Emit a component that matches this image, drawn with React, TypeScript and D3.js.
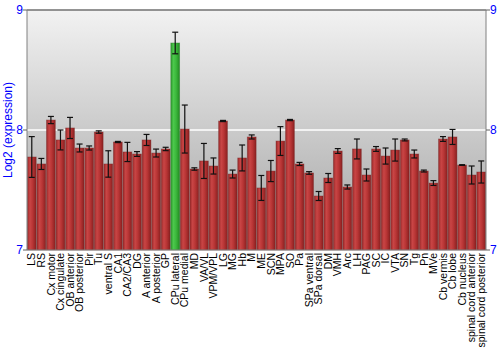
import React from "react";
import * as d3 from "d3";

const categories = ["LS","RS","Cx motor","Cx cingulate","OB anterior","OB posterior","Pir","Tu","ventral S","CA1","CA2/CA3","DG","A anterior","A posterior","GP","CPu lateral","CPu medial","MD","VA/VL","VPM/VPL","LG","MG","Hb","M","ME","SCN","MPA","SO","Pa","SPa ventral","SPa dorsal","DM","VMH","Arc","LH","PAG","SC","IC","VTA","SN","Tg","Pn","MVe","Cb vermis","Cb lobe","Cb nucleus","spinal cord anterior","spinal cord posterior"];
const values = [7.775,7.717,8.083,7.917,8.017,7.85,7.85,7.983,7.717,7.9,7.817,7.8,7.917,7.808,7.842,8.725,8.008,7.675,7.742,7.7,8.075,7.633,7.767,7.942,7.517,7.658,7.908,8.083,7.717,7.642,7.45,7.6,7.825,7.525,7.842,7.625,7.842,7.783,7.833,7.917,7.8,7.658,7.558,7.925,7.942,7.708,7.625,7.65];
const errors = [0.17,0.046,0.03,0.083,0.088,0.033,0.017,0.01,0.11,0.005,0.08,0.02,0.046,0.033,0.014,0.09,0.2,0.01,0.146,0.067,0.005,0.033,0.108,0.017,0.104,0.088,0.12,0.005,0.013,0.011,0.0375,0.0375,0.02,0.017,0.083,0.05,0.02,0.067,0.092,0.008,0.033,0.008,0.02,0.02,0.0625,0.003,0.075,0.092];
const highlighted = ["CPu lateral"];
const yTicks = [7, 8, 9];
const yTitle = "Log2 (expression)";

export default function App() {
  const left = 27, right = 486, top = 10, bottom = 250;
  const x = d3.scaleBand<string>().domain(categories).range([left, right]).paddingInner(0.08).paddingOuter(0.04);
  const y = d3.scaleLinear().domain([7, 9]).range([bottom, top]);
  const font = "'Liberation Sans', Arial, sans-serif";
  const bw = x.bandwidth();
  return (
    <svg width={500} height={350} style={{ position: "absolute", left: 0, top: 0 }} fontFamily={font}>
      <defs>
        <linearGradient id="bg" x1="0" y1="0" x2="0" y2="1">
          <stop offset="0" stopColor="#f2f2f2" />
          <stop offset="1" stopColor="#a3a3a3" />
        </linearGradient>
        <linearGradient id="red" x1="0" y1="0" x2="1" y2="0">
          <stop offset="0" stopColor="#9a2a2a" />
          <stop offset="0.3" stopColor="#c94545" />
          <stop offset="0.6" stopColor="#b83535" />
          <stop offset="1" stopColor="#8a2020" />
        </linearGradient>
        <linearGradient id="green" x1="0" y1="0" x2="1" y2="0">
          <stop offset="0" stopColor="#2e9a2e" />
          <stop offset="0.3" stopColor="#4cc84c" />
          <stop offset="0.6" stopColor="#3cb83c" />
          <stop offset="1" stopColor="#228a22" />
        </linearGradient>
      </defs>
      <rect x={left} y={top} width={right - left} height={bottom - top} fill="url(#bg)" />
      {yTicks.filter(t => t !== 7 && t !== 9).map(t => (
        <line key={t} x1={left} x2={right} y1={y(t)} y2={y(t)} stroke="#ffffff" strokeWidth={1.5} />
      ))}
      {categories.map((c, i) => {
        const bx = x(c)!;
        const hi = highlighted.includes(c);
        return (
          <rect key={c} x={bx} y={y(values[i])} width={bw} height={bottom - y(values[i])}
            fill={hi ? "url(#green)" : "url(#red)"} stroke={hi ? "#2a7a2a" : "#7a2a2a"} strokeOpacity={0.5} strokeWidth={0.8} />
        );
      })}
      {categories.map((c, i) => {
        const cx = x(c)! + bw / 2;
        const y1 = y(values[i] + errors[i]);
        const y2 = y(values[i] - errors[i]);
        return (
          <g key={"e" + c} stroke="#111" strokeWidth={1.2}>
            <line x1={cx} x2={cx} y1={y1} y2={y2} />
            <line x1={cx - 3} x2={cx + 3} y1={y1} y2={y1} />
            <line x1={cx - 3} x2={cx + 3} y1={y2} y2={y2} />
          </g>
        );
      })}
      <line x1={left} x2={right} y1={top} y2={top} stroke="#707070" strokeWidth={1.5} />
      <line x1={left} x2={left} y1={top} y2={bottom} stroke="#808080" />
      <line x1={right} x2={right} y1={top} y2={bottom} stroke="#808080" />
      <line x1={left} x2={right} y1={bottom} y2={bottom} stroke="#808080" />
      {yTicks.map(t => (
        <g key={"t" + t}>
          <line x1={left - 4} x2={left} y1={y(t)} y2={y(t)} stroke="#606060" />
          <line x1={right} x2={right + 4} y1={y(t)} y2={y(t)} stroke="#606060" />
          <text x={left - 4} y={y(t)} dy="0.35em" textAnchor="end" fontSize={12} fill="#0000ff">{t}</text>
          <text x={right + 4} y={y(t)} dy="0.35em" textAnchor="start" fontSize={12} fill="#0000ff">{t}</text>
        </g>
      ))}
      <text transform={`translate(12,${(top + bottom) / 2}) rotate(-90)`} textAnchor="middle" fontSize={12} fill="#0000ff">{yTitle}</text>
      {categories.map(c => (
        <text key={"l" + c} transform={`translate(${x(c)! + bw / 2},${bottom + 3}) rotate(-90)`} textAnchor="end" dy="0.35em" fontSize={10.5} fill="#000">{c}</text>
      ))}
    </svg>
  );
}
